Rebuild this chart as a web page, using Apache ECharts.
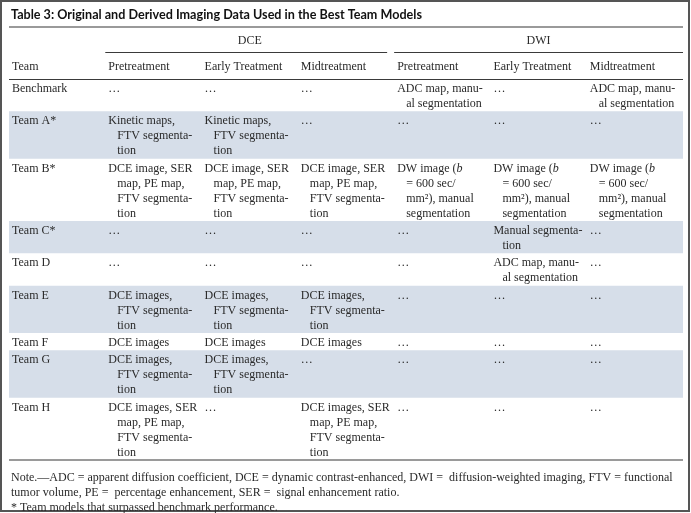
<!DOCTYPE html>
<html>
<head>
<meta charset="utf-8">
<script src="https://cdn.jsdelivr.net/npm/echarts@6/dist/echarts.min.js"></script>
<style>
html,body{margin:0;padding:0;background:#fff;}
#chart{width:691px;height:513px;}
</style>
</head>
<body>
<div id="chart"></div>
<script>
// ---------- DATA ----------
const tableTitle = 'Table 3: Original and Derived Imaging Data Used in the Best Team Models';
const groupLabels = ['DCE', 'DWI'];
const groupSpans = [[1, 3], [4, 6]];
const headerLabels = ['Team', 'Pretreatment', 'Early Treatment', 'Midtreatment', 'Pretreatment', 'Early Treatment', 'Midtreatment'];
const E = '…';
const teams = ['Benchmark', 'Team A*', 'Team B*', 'Team C*', 'Team D', 'Team E', 'Team F', 'Team G', 'Team H'];
const dcePre = [
  E,
  'Kinetic maps,\nFTV segmenta-\ntion',
  'DCE image, SER\nmap, PE map,\nFTV segmenta-\ntion',
  E,
  E,
  'DCE images,\nFTV segmenta-\ntion',
  'DCE images',
  'DCE images,\nFTV segmenta-\ntion',
  'DCE images, SER\nmap, PE map,\nFTV segmenta-\ntion'
];
const dceEarly = [
  E,
  'Kinetic maps,\nFTV segmenta-\ntion',
  'DCE image, SER\nmap, PE map,\nFTV segmenta-\ntion',
  E,
  E,
  'DCE images,\nFTV segmenta-\ntion',
  'DCE images',
  'DCE images,\nFTV segmenta-\ntion',
  E
];
const dceMid = [
  E,
  E,
  'DCE image, SER\nmap, PE map,\nFTV segmenta-\ntion',
  E,
  E,
  'DCE images,\nFTV segmenta-\ntion',
  'DCE images',
  E,
  'DCE images, SER\nmap, PE map,\nFTV segmenta-\ntion'
];
const dwiPre = [
  'ADC map, manu-\nal segmentation',
  E,
  'DW image ({i|b}\n= 600 sec/\nmm²), manual\nsegmentation',
  E, E, E, E, E, E
];
const dwiEarly = [
  E,
  E,
  'DW image ({i|b}\n= 600 sec/\nmm²), manual\nsegmentation',
  'Manual segmenta-\ntion',
  'ADC map, manu-\nal segmentation',
  E, E, E, E
];
const dwiMid = [
  'ADC map, manu-\nal segmentation',
  E,
  'DW image ({i|b}\n= 600 sec/\nmm²), manual\nsegmentation',
  E, E, E, E, E, E
];
const noteLines = [
  'Note.—ADC = apparent diffusion coefficient, DCE = dynamic contrast-enhanced, DWI =  diffusion-weighted imaging, FTV = functional',
  'tumor volume, PE =  percentage enhancement, SER =  signal enhancement ratio.',
  '* Team models that surpassed benchmark performance.'
];

// ---------- LAYOUT (styles) ----------
const LH = 15, PAD = 2.3, GROUP_H = 25, HEAD_H = 27;
const TEXT_PAD = 3, INDENT = 9, TEXT_DY = 1.3;
const SERIF = '"Liberation Serif", serif';
const SANS = 'Lato, sans-serif';
const TXT = '#2a2a2a';
const SHADE = '#d6dee9';

const bodyCols = [teams, dcePre, dceEarly, dceMid, dwiPre, dwiEarly, dwiMid];
const rowLines = teams.map((_, r) => Math.max(...bodyCols.map(c => c[r].split('\n').length)));
const rowTops = [], rowHeights = [];
let acc = GROUP_H + HEAD_H;
rowLines.forEach(n => { rowTops.push(acc); const h = n * LH + PAD; rowHeights.push(h); acc += h; });
const TOTAL = acc;

// cells
const cellData = [], cellText = [];
headerLabels.forEach((t, c) => { cellData.push([c, GROUP_H + (HEAD_H - LH) / 2]); cellText.push(t); });
teams.forEach((_, r) => {
  bodyCols.forEach((col, c) => { cellData.push([c, rowTops[r] + PAD / 2]); cellText.push(col[r]); });
});

// shading rows (alternate)
const shadeData = [];
teams.forEach((_, r) => { if (r % 2 === 1) shadeData.push([0, rowTops[r], rowHeights[r]]); });

// rules: [y, colStart, colEnd, kind]
const ruleData = [
  [0, 0, 6, 1],
  [GROUP_H, groupSpans[0][0], groupSpans[0][1], 0],
  [GROUP_H, groupSpans[1][0], groupSpans[1][1], 0],
  [GROUP_H + HEAD_H, 0, 6, 0],
  [TOTAL, 0, 6, 1]
];

const groupData = groupSpans.map((s, i) => [s[0], s[1], GROUP_H / 2]);

const chart = echarts.init(document.getElementById('chart'), null, { renderer: 'canvas' });

const textStyleBase = { fontSize: 12, fontFamily: SERIF, fill: TXT, verticalAlign: 'middle', align: 'left',
  rich: { i: { fontStyle: 'italic', fontSize: 12, fontFamily: SERIF, fill: TXT } } };

chart.setOption({
  animation: false,
  textStyle: { fontFamily: SERIF },
  title: [
    { text: tableTitle, left: 11, top: 8, padding: 0,
      textStyle: { fontFamily: SANS, fontWeight: 'bold', fontSize: 12.6, lineHeight: 14, color: '#111' } },
    { text: noteLines.join('\n'), left: 11, top: 470.5, padding: 0,
      textStyle: { fontFamily: SERIF, fontWeight: 'normal', fontSize: 12, lineHeight: 15, color: TXT } }
  ],
  graphic: [
    { type: 'rect', shape: { x: 1, y: 1, width: 688, height: 510 }, style: { fill: 'none', stroke: '#555', lineWidth: 2 }, silent: true }
  ],
  grid: { left: 9, right: 8, top: 27, bottom: 513 - 27 - 433 },
  xAxis: { type: 'category', data: headerLabels.map((h, i) => i), show: false, boundaryGap: true },
  yAxis: { type: 'value', inverse: true, min: 0, max: TOTAL, show: false },
  series: [
    {
      type: 'custom', clip: false, silent: true, z: 1,
      data: shadeData,
      renderItem(params, api) {
        const cs = params.coordSys;
        const y0 = api.coord([0, api.value(1)])[1];
        const h = api.size([0, api.value(2)])[1];
        return { type: 'rect', shape: { x: cs.x, y: y0, width: cs.width, height: h }, style: { fill: SHADE } };
      }
    },
    {
      type: 'custom', clip: false, silent: true, z: 3,
      data: ruleData,
      renderItem(params, api) {
        const bw = api.size([1, 0])[0];
        const c0 = api.value(1), c1 = api.value(2), heavy = api.value(3) === 1;
        let y = api.coord([0, api.value(0)])[1];
        if (!heavy) y = Math.round(y) + 0.5;
        const x0 = api.coord([c0, 0])[0] - bw / 2;
        let x1 = api.coord([c1, 0])[0] + bw / 2;
        const isGroup = !heavy && c0 !== 0 && c1 !== 6;
        if (isGroup) x1 -= 7;
        return { type: 'line', shape: { x1: x0, y1: y, x2: x1, y2: y },
          style: { stroke: heavy ? '#9a9a9a' : '#3a3a3a', lineWidth: heavy ? 2 : 1 } };
      }
    },
    {
      type: 'custom', clip: false, silent: true, z: 4,
      data: groupData,
      renderItem(params, api) {
        const bw = api.size([1, 0])[0];
        const xa = api.coord([api.value(0), 0])[0] - bw / 2;
        const xb = api.coord([api.value(1), 0])[0] + bw / 2;
        const y = api.coord([0, api.value(2)])[1] + TEXT_DY;
        return { type: 'text', style: Object.assign({}, textStyleBase, { text: groupLabels[params.dataIndex], x: (xa + xb) / 2, y: y, align: 'center' }) };
      }
    },
    {
      type: 'custom', clip: false, silent: true, z: 5,
      data: cellData,
      renderItem(params, api) {
        const c = api.value(0), top = api.value(1);
        const bw = api.size([1, 0])[0];
        const left = api.coord([c, 0])[0] - bw / 2 + TEXT_PAD;
        const lines = cellText[params.dataIndex].split('\n');
        return {
          type: 'group',
          children: lines.map((ln, k) => ({
            type: 'text',
            style: Object.assign({}, textStyleBase, {
              text: ln, x: left + (k ? INDENT : 0), y: api.coord([c, top + (k + 0.5) * LH])[1] + TEXT_DY
            })
          }))
        };
      }
    }
  ]
});
</script>
</body>
</html>
